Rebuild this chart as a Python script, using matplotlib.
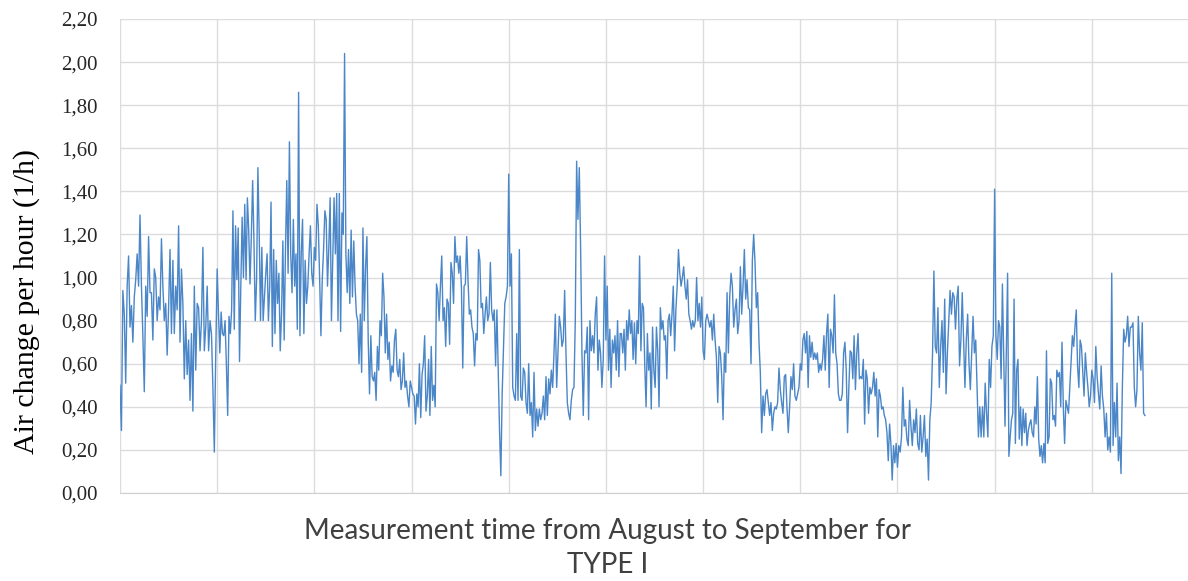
import matplotlib
matplotlib.use("Agg")
import matplotlib.pyplot as plt
from matplotlib.ticker import FuncFormatter
import numpy as np

# air change readings, one list per gridline interval
col1 = [0.50, 0.29, 0.94, 0.83, 0.51, 0.96, 1.10, 0.77, 0.87, 0.70, 0.91, 0.99, 1.11, 0.96, 1.29, 0.96, 0.73,
        0.47, 0.96, 0.82, 1.19, 0.93, 0.93, 0.71, 1.04, 1.00, 0.80, 0.91, 0.85, 1.18, 0.96, 0.80, 0.88, 0.64,
        0.86, 1.13, 0.74, 1.08, 0.74, 0.96, 0.85, 1.24, 0.70, 1.04, 0.88, 0.53, 0.80, 0.55, 0.71, 0.43, 0.74,
        0.38, 0.96, 0.57, 0.88, 0.86, 0.66, 0.80, 1.14, 0.66, 0.77, 0.96, 0.66, 0.80, 0.74, 0.49, 0.19, 0.65]
col2 = [1.04, 0.83, 0.65, 0.84, 0.74, 0.73, 0.80, 0.60, 0.36, 0.82, 0.74, 0.85, 1.31, 0.76, 1.24, 0.99, 1.23,
        0.61, 0.96, 1.28, 1.00, 1.34, 0.99, 1.37, 1.22, 0.97, 1.19, 1.45, 1.17, 0.80, 0.99, 1.51, 1.20, 0.80,
        1.14, 0.80, 0.91, 1.02, 1.11, 0.80, 0.96, 1.35, 0.68, 1.13, 0.74, 1.08, 0.88, 1.02, 0.66, 0.83, 1.17,
        0.71, 1.13, 1.45, 1.02, 1.63, 1.11, 0.93, 1.27, 0.96, 1.11, 0.76, 1.86, 0.73, 1.11, 1.27, 0.74, 1.08,
        0.88, 0.96, 1.11, 1.24, 1.02, 0.96]
col3 = [1.14, 1.08, 1.34, 1.24, 1.00, 0.73, 0.99, 1.13, 1.31, 1.27, 0.96, 1.14, 1.37, 0.80, 1.08, 1.37, 1.11,
        1.39, 0.80, 1.39, 0.75, 1.30, 1.20, 2.04, 1.11, 0.93, 1.13, 0.88, 1.22, 0.91, 1.17, 0.96, 0.83, 0.80,
        0.60, 0.83, 0.56, 1.23, 0.80, 1.05, 1.19, 0.71, 0.46, 0.73, 0.54, 0.52, 0.56, 0.43, 0.68, 0.57, 0.80,
        0.73, 1.02, 0.91, 0.65, 0.83, 0.62, 0.70, 0.52, 0.59, 0.56, 0.71, 0.76, 0.57, 0.54, 0.62, 0.48, 0.52,
        0.65, 0.49, 0.52, 0.45, 0.40, 0.52]
col4 = [0.49, 0.46, 0.45, 0.32, 0.46, 0.40, 0.60, 0.35, 0.55, 0.60, 0.73, 0.38, 0.45, 0.62, 0.36, 0.68, 0.43,
        0.50, 0.40, 0.97, 0.93, 0.80, 0.96, 1.10, 0.80, 0.86, 0.68, 0.90, 0.88, 0.69, 1.07, 1.02, 0.88, 1.19,
        1.07, 1.10, 1.02, 1.10, 0.95, 0.58, 0.96, 0.97, 1.19, 0.99, 0.83, 0.85, 0.77, 0.74, 0.59, 0.74, 0.71,
        1.13, 1.08, 0.86, 0.88, 0.74, 0.83, 0.91, 0.80, 0.83, 1.07, 0.85, 0.80, 0.85, 0.59, 0.85, 0.56, 0.29,
        0.08, 0.46, 0.67, 0.88, 0.91, 0.96]
col5 = [1.48, 0.96, 1.11, 0.49, 0.45, 0.43, 0.74, 0.43, 1.13, 0.45, 0.43, 0.58, 0.56, 0.42, 0.37, 0.60, 0.36,
        0.42, 0.26, 0.56, 0.29, 0.39, 0.31, 0.39, 0.34, 0.37, 0.45, 0.34, 0.54, 0.36, 0.53, 0.46, 0.57, 0.49,
        0.65, 0.83, 0.49, 0.65, 0.82, 0.77, 0.68, 0.71, 0.94, 0.65, 0.42, 0.37, 0.34, 0.43, 0.48, 0.49, 0.80,
        1.54, 1.27, 1.51, 1.14, 0.65, 0.36, 0.66, 0.65, 0.77, 0.34, 0.80, 0.66, 0.73, 0.65, 0.83, 0.91, 0.57,
        0.71, 0.65, 0.49, 0.62, 1.10]
col6 = [0.71, 0.96, 0.57, 0.76, 0.49, 0.71, 0.65, 0.73, 0.57, 0.80, 0.54, 0.74, 0.74, 0.65, 0.76, 0.57, 0.80,
        0.71, 0.85, 0.74, 0.80, 0.62, 0.79, 0.60, 0.80, 0.74, 1.10, 0.66, 0.88, 0.86, 0.59, 0.40, 0.74, 0.57,
        0.65, 0.39, 0.77, 0.57, 0.49, 0.77, 0.66, 0.40, 0.86, 0.76, 0.80, 0.71, 0.73, 0.53, 0.80, 0.83, 0.73,
        0.83, 0.96, 0.66, 0.85, 0.96, 1.13, 1.02, 0.96, 1.00, 1.05, 0.96, 0.90, 0.99, 0.83, 0.80, 0.76, 0.80,
        0.77, 0.80, 1.00, 0.80, 0.88, 0.77, 0.91]
col7 = [0.66, 0.62, 0.80, 0.83, 0.80, 0.77, 0.80, 0.71, 0.83, 0.71, 0.63, 0.42, 0.68, 0.65, 0.54, 0.34, 0.65,
        0.56, 0.93, 0.65, 0.91, 1.02, 0.96, 0.77, 0.85, 0.90, 0.74, 0.80, 1.05, 0.83, 0.96, 1.13, 0.90, 0.99,
        0.86, 0.85, 0.60, 1.08, 1.20, 1.07, 0.86, 0.93, 0.70, 0.56, 0.28, 0.45, 0.36, 0.46, 0.48, 0.42, 0.36,
        0.42, 0.29, 0.37, 0.40, 0.39, 0.42, 0.58, 0.48, 0.42, 0.37, 0.54, 0.55, 0.40, 0.28, 0.40, 0.54, 0.48,
        0.60, 0.45, 0.43, 0.46, 0.49]
col8 = [0.60, 0.57, 0.71, 0.74, 0.65, 0.75, 0.49, 0.73, 0.63, 0.70, 0.62, 0.65, 0.62, 0.65, 0.56, 0.60, 0.57,
        0.62, 0.73, 0.57, 0.74, 0.83, 0.49, 0.76, 0.73, 0.65, 0.92, 0.65, 0.60, 0.46, 0.43, 0.43, 0.46, 0.65,
        0.70, 0.57, 0.28, 0.49, 0.66, 0.65, 0.53, 0.73, 0.48, 0.65, 0.74, 0.53, 0.54, 0.53, 0.62, 0.32, 0.57,
        0.53, 0.37, 0.49, 0.46, 0.49, 0.56, 0.45, 0.53, 0.26, 0.48, 0.45, 0.39, 0.40, 0.36, 0.34, 0.28, 0.15,
        0.32, 0.23, 0.06, 0.22, 0.14, 0.23]
col9 = [0.12, 0.22, 0.19, 0.26, 0.49, 0.31, 0.34, 0.25, 0.22, 0.43, 0.31, 0.22, 0.34, 0.28, 0.39, 0.23, 0.20,
        0.36, 0.19, 0.26, 0.36, 0.17, 0.25, 0.06, 0.34, 0.42, 0.65, 1.03, 0.68, 0.65, 0.86, 0.49, 0.68, 0.80,
        0.56, 0.90, 0.46, 0.65, 0.80, 0.94, 0.83, 0.93, 0.91, 0.76, 0.90, 0.96, 0.59, 0.71, 0.93, 0.71, 0.49,
        0.71, 0.83, 0.60, 0.48, 0.65, 0.82, 0.65, 0.71, 0.49, 0.26, 0.40, 0.26, 0.40, 0.26, 0.51, 0.37, 0.26,
        0.62, 0.49, 0.68, 0.73]
col10 = [1.41, 0.73, 0.62, 0.80, 0.77, 0.53, 0.97, 0.65, 0.31, 0.65, 1.02, 0.17, 0.26, 0.34, 0.37, 0.90, 0.23,
         0.57, 0.62, 0.25, 0.40, 0.22, 0.39, 0.28, 0.37, 0.22, 0.29, 0.32, 0.34, 0.28, 0.26, 0.40, 0.32, 0.54,
         0.25, 0.17, 0.22, 0.14, 0.23, 0.14, 0.66, 0.23, 0.26, 0.53, 0.51, 0.34, 0.36, 0.31, 0.57, 0.54, 0.56,
         0.40, 0.70, 0.40, 0.23, 0.43, 0.40, 0.37, 0.49, 0.62, 0.73, 0.68, 0.77, 0.85, 0.59, 0.49, 0.71, 0.68,
         0.56, 0.45, 0.65, 0.56, 0.49, 0.40, 0.45]
col11 = [0.57, 0.53, 0.42, 0.68, 0.54, 0.46, 0.39, 0.59, 0.45, 0.39, 0.26, 0.37, 0.20, 0.26, 0.19, 1.02, 0.22,
         0.42, 0.26, 0.51, 0.15, 0.26, 0.09, 0.49, 0.76, 0.70, 0.73, 0.82, 0.68, 0.77, 0.77, 0.79, 0.49, 0.40,
         0.48, 0.82, 0.65, 0.57, 0.79, 0.37, 0.36]

columns = [col1, col2, col3, col4, col5, col6, col7, col8, col9, col10, col11]
n_cols = 11

x_label = "Measurement time from August to September for\nTYPE I"
y_label = "Air change per hour (1/h)"

# x positions: points evenly spread inside each interval,
# last (partial) interval uses the average point spacing
avg_n = np.mean([len(c) for c in columns[:-1]])
xs, ys = [], []
for k, c in enumerate(columns):
    n = len(c)
    step = 1.0 / n if k < len(columns) - 1 else 1.0 / avg_n
    xs.extend(k + np.arange(n) * step)
    ys.extend(c)

fig = plt.figure(figsize=(11.88, 5.81), dpi=100)
ax = fig.add_axes([120 / 1188, 1 - 493 / 581, 1069 / 1188, (493 - 19) / 581])

ax.plot(xs, ys, color="#4a86c8", linewidth=1.0)

ax.set_xlim(0, n_cols)
ax.set_ylim(0, 2.2)
ax.set_xticks(np.arange(0, n_cols + 1))
ax.set_xticklabels([])
ax.set_yticks(np.arange(0, 2.21, 0.2))
ax.yaxis.set_major_formatter(FuncFormatter(lambda v, p: f"{v:.2f}".replace(".", ",")))
ax.grid(True, color="#dcdcdc", linewidth=1.0)
ax.set_axisbelow(True)
for s in ["top", "right", "left"]:
    ax.spines[s].set_visible(False)
ax.spines["bottom"].set_color("#d0d0d0")
ax.tick_params(axis="both", length=0, pad=16)
for lab in ax.get_yticklabels():
    lab.set_fontfamily("Liberation Serif")
    lab.set_fontsize(15)
    lab.set_color("#262626")

fig.text(27 / 1188, 1 - 301 / 581, y_label, rotation=90, ha="center", va="center",
         fontsize=21.5, family="Liberation Serif", color="black")
fig.text(608 / 1188, 1 - 548 / 581, x_label, ha="center", va="center",
         fontsize=20, family="Lato", color="#404040", linespacing=1.35)

fig.savefig("out.png", dpi=100, facecolor="white")
